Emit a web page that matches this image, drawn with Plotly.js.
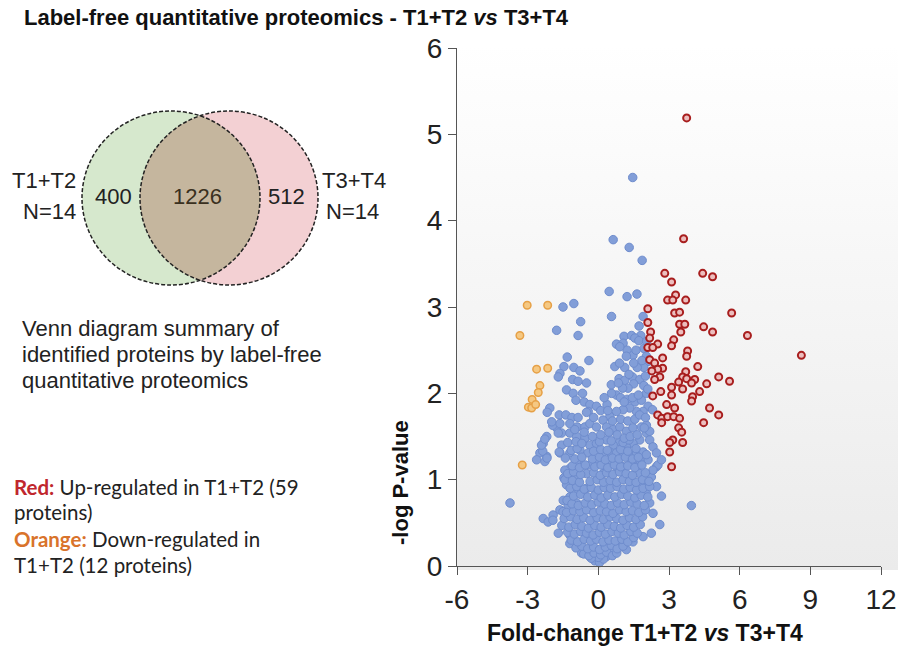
<!DOCTYPE html>
<html><head><meta charset="utf-8">
<script src="https://cdn.plot.ly/plotly-3.0.1.min.js"></script>
<style>html,body{margin:0;padding:0;background:#fff}#chart{width:898px;height:647px}</style>
</head><body><div id="chart"></div><script>
const xTickVals = [-6, -3, 0, 3, 6, 9, 12];
const yTickVals = [0, 1, 2, 3, 4, 5, 6];
const vennSets = ['T1+T2', 'T3+T4'];
const vennN = [14, 14];
const vennCounts = [400, 1226, 512];
const upCount = 59;
const downCount = 12;

const orangePoints = [[-3.02,3.02],[-2.15,3.02],[-3.33,2.67],[-2.62,2.28],[-2.15,2.29],[-2.48,2.09],[-2.55,2.01],[-2.81,1.93],[-2.97,1.84],[-2.83,1.83],[-2.66,1.87],[-3.23,1.17]];

const redPoints = [[3.75,5.19],[3.62,3.79],[2.82,3.39],[4.43,3.39],[4.85,3.35],[3.11,3.29],[3.28,3.14],[2.94,3.08],[3.71,3.08],[3.16,3.08],[2.10,2.98],[3.24,2.93],[3.45,2.94],[5.66,2.93],[2.10,2.82],[3.45,2.80],[3.67,2.80],[4.47,2.77],[4.85,2.71],[6.33,2.67],[2.22,2.71],[3.50,2.71],[2.18,2.64],[3.20,2.62],[2.52,2.57],[2.10,2.53],[2.31,2.53],[3.11,2.55],[3.79,2.49],[3.75,2.43],[8.62,2.44],[2.18,2.39],[2.39,2.35],[2.73,2.41],[2.73,2.29],[2.52,2.28],[2.27,2.26],[3.71,2.25],[4.22,2.31],[3.58,2.19],[5.11,2.19],[5.57,2.14],[2.61,2.19],[2.39,2.16],[3.75,2.17],[4.09,2.16],[3.96,2.12],[3.41,2.13],[4.60,2.11],[3.11,2.07],[3.58,2.05],[4.30,2.02],[2.31,1.97],[2.65,2.02],[3.11,1.98],[4.00,1.96],[3.96,1.91],[4.72,1.83],[5.11,1.75],[2.90,1.87],[3.24,1.83],[2.52,1.75],[2.69,1.71],[2.94,1.73],[3.20,1.73],[3.45,1.71],[4.47,1.66],[2.69,1.66],[3.41,1.60],[3.54,1.55],[3.16,1.46],[3.03,1.43],[3.58,1.43],[3.03,1.32],[3.11,1.15]];

const bluePoints = [
[1.46,4.50],[0.63,3.78],[1.31,3.69],[1.86,3.54],[0.46,3.18],[1.22,3.12],[1.64,3.15],[-1.50,3.00],[-1.04,3.04],[0.56,2.89],[-0.75,2.83],[1.90,2.89],[1.73,2.78],[-0.86,2.67],[1.09,2.66],[1.41,2.67],[1.80,2.67],[-1.77,2.73],[0.77,2.57],[1.05,2.58],[1.22,2.50],[1.55,2.64],[1.72,2.61],[1.93,2.52],[1.47,2.44],[-1.32,2.42],[-1.46,2.31],[-1.04,2.30],[-0.40,2.38],[-0.78,2.26],[-1.63,2.23],[-1.70,2.19],[-1.09,2.16],[-0.86,2.14],[-0.50,2.12],[-1.35,2.04],[-1.07,2.00],[-0.67,2.00],[-0.95,1.92],[-0.60,1.90],[-0.36,1.87],[-0.08,1.85],[-0.43,1.79],[-2.06,1.83],[-2.17,1.78],[-1.66,1.75],[-1.38,1.75],[-1.12,1.72],[-0.86,1.72],[1.12,2.30],[0.88,2.17],[1.12,2.15],[1.45,2.19],[1.76,2.16],[1.93,2.09],[1.50,2.11],[1.26,2.06],[1.03,2.06],[0.77,1.98],[0.56,2.00],[0.37,1.87],[0.94,1.95],[1.22,1.93],[1.55,1.90],[1.83,1.92],[2.04,2.00],[2.11,1.85],[2.30,1.81],[1.90,1.79],[1.62,1.79],[1.33,1.83],[1.05,1.81],[0.77,1.79],[0.49,1.73],[0.20,1.69],[2.04,2.43],[2.11,2.37],[1.93,2.30],[0.70,2.31],[1.19,2.43],[0.91,2.54],
[-2.34,1.42],[-2.48,1.31],[-2.62,1.23],[-2.19,1.50],[-1.77,1.60],[-1.56,1.54],[-1.94,1.63],[-1.63,1.65],[-1.21,1.65],[-0.90,1.61],[-0.57,1.61],[-0.36,1.65],[-0.08,1.61],[-1.21,1.54],[-0.92,1.50],[-0.57,1.48],[-0.36,1.40],[-0.08,1.42],[-1.56,1.40],[-1.63,1.31],[-1.21,1.31],[-0.78,1.34],[-0.43,1.31],[0.35,1.61],[0.63,1.58],[0.91,1.61],[1.19,1.56],[1.47,1.60],[1.83,1.61],[2.04,1.54],[2.18,1.46],[2.32,1.38],[2.47,1.31],[1.76,1.46],[1.47,1.42],[1.19,1.38],[0.91,1.44],[0.63,1.40],[0.35,1.46],[0.49,1.32],[0.77,1.31],[1.05,1.27],[1.33,1.29],[1.62,1.31],[1.90,1.32],[2.11,1.23],[1.76,1.17],[1.41,1.19],[1.05,1.15],[0.77,1.15],[0.42,1.21],[0.14,1.27],[-0.08,1.21],[-0.36,1.17],[-0.64,1.17],[-0.92,1.19],[-1.21,1.13],[-1.42,1.11],[-1.00,1.05],[-0.50,1.07],[0.20,1.07],[2.47,1.15],
[-3.75,0.73],[3.95,0.70],[-2.27,1.21],[-2.19,1.27],[-2.36,1.33],[-2.41,1.40],[-2.27,1.47],[-1.98,1.67],[-1.70,1.54],[-1.66,1.32],[-1.46,1.02],[-1.35,0.94],[-1.49,0.76],[-1.21,0.80],[-0.86,0.86],[-0.50,0.90],[-0.92,0.73],[-1.28,0.69],[-1.63,0.65],[-1.92,0.59],[-2.34,0.55],[-2.13,0.51],[-1.70,0.38],[-1.21,0.36],[-1.21,0.26],[-0.78,0.22],[-0.71,0.15],[-0.36,0.11],[-0.08,0.07],[0.35,0.11],[0.56,0.17],[0.91,0.22],[1.19,0.19],[1.47,0.28],[1.90,0.34],[2.25,0.38],[2.61,0.48],[2.32,0.61],[2.18,0.73],[2.68,0.81],[2.47,0.92],[2.04,0.84],[1.90,0.96],[2.25,1.03],[2.53,1.17],[2.68,1.23],[2.32,1.11],[1.76,1.07],[1.76,1.23],[2.04,1.29],[2.18,1.56],[2.04,1.63],[-1.93,0.53],[-1.50,0.63],[-1.33,0.76],[-1.42,1.00],[-2.18,1.25],
[-0.15,0.06],[0.05,0.04],[0.22,0.08],[0.00,0.10],[-0.30,0.09],
[-0.62,0.14],[-0.40,0.12],[-0.18,0.15],[0.10,0.13],[0.35,0.16],[0.60,0.12],[0.78,0.15],
[-0.95,0.21],[-0.70,0.23],[-0.45,0.20],[-0.20,0.22],[0.05,0.19],[0.30,0.22],[0.55,0.24],[0.80,0.20],[1.05,0.23],
[-1.15,0.30],[-0.88,0.28],[-0.60,0.31],[-0.33,0.29],[-0.08,0.31],[0.20,0.28],[0.45,0.30],[0.72,0.29],[1.00,0.31],[1.25,0.28],[1.50,0.33],
[-1.30,0.39],[-1.02,0.37],[-0.75,0.40],[-0.50,0.38],[-0.22,0.36],[0.05,0.39],[0.30,0.37],[0.58,0.40],[0.85,0.38],[1.10,0.36],[1.38,0.40],[1.65,0.38],
[-1.55,0.47],[-1.25,0.45],[-0.98,0.48],[-0.70,0.46],[-0.42,0.44],[-0.15,0.47],[0.12,0.45],[0.40,0.48],[0.68,0.46],[0.95,0.44],[1.22,0.47],[1.50,0.45],[1.78,0.48],
[-1.45,0.55],[-1.18,0.57],[-0.90,0.54],[-0.62,0.56],[-0.35,0.53],[-0.05,0.56],[0.22,0.54],[0.50,0.57],[0.78,0.55],[1.05,0.53],[1.32,0.56],[1.60,0.54],[1.88,0.57],
[-1.35,0.62],[-1.05,0.64],[-0.78,0.63],[-0.50,0.65],[-0.20,0.62],[0.08,0.64],[0.35,0.63],[0.62,0.61],[0.90,0.65],[1.18,0.63],[1.45,0.64],[1.72,0.62],[2.00,0.65],
[-1.12,0.72],[-0.85,0.70],[-0.55,0.73],[-0.28,0.71],[0.00,0.74],[0.28,0.72],[0.55,0.70],[0.82,0.73],[1.10,0.71],[1.38,0.74],[1.65,0.72],[1.95,0.70],
[-1.05,0.81],[-0.75,0.83],[-0.45,0.80],[-0.15,0.82],[0.12,0.79],[0.40,0.82],[0.70,0.80],[0.98,0.83],[1.25,0.81],[1.55,0.79],[1.82,0.82],[2.10,0.80],
[-1.20,0.90],[-0.92,0.92],[-0.60,0.89],[-0.30,0.91],[0.00,0.88],[0.25,0.91],[0.52,0.90],[0.80,0.92],[1.08,0.89],[1.35,0.91],[1.62,0.88],[1.90,0.90],[2.18,0.92],
[-1.10,0.99],[-0.80,0.97],[-0.35,0.98],[-0.05,1.00],[0.22,0.97],[0.50,0.99],[0.78,0.97],[1.05,1.00],[1.32,0.98],[1.60,0.97],[1.88,1.00],[2.15,0.98],
[-1.30,1.07],[-1.05,1.09],[-0.75,1.06],[-0.20,1.08],[0.08,1.05],[0.35,1.08],[0.62,1.06],[0.90,1.09],[1.18,1.07],[1.45,1.05],[2.00,1.08],
[-1.10,1.16],[-0.80,1.14],[-0.55,1.17],[-0.15,1.15],[0.12,1.17],[0.40,1.14],[0.68,1.17],[0.95,1.15],[1.25,1.16],[1.55,1.14],[1.85,1.17],
[-1.40,1.25],[-1.00,1.24],[-0.70,1.26],[-0.25,1.24],[0.05,1.26],[0.30,1.23],[0.60,1.25],[0.88,1.24],[1.15,1.26],[1.45,1.24],[1.70,1.26],
[-1.15,1.34],[-0.90,1.36],[-0.20,1.33],[0.10,1.35],[0.38,1.34],[0.95,1.35],[1.25,1.33],[1.60,1.36],
[-1.30,1.43],[-0.95,1.44],[-0.70,1.42],[0.05,1.44],[0.55,1.45],[1.05,1.43],[1.30,1.46],
[-1.00,1.58],[-0.60,1.55],[-0.25,1.50],[0.10,1.52],[0.45,1.55],[0.80,1.52],[1.10,1.48],[1.35,1.50],[1.65,1.52],[1.95,1.60],[0.60,1.68],[0.95,1.70],[1.25,1.68],[1.55,1.70],[1.75,1.75],[2.00,1.72],[-0.50,1.78],[-0.20,1.72],[0.10,1.80],[0.40,1.80],[1.10,1.90],[1.45,1.95],[1.70,1.98],[2.10,2.05],[0.25,1.95],[0.55,2.10],[0.85,2.12],[1.30,2.22],[1.65,2.30],[1.85,2.38],[2.00,2.20],[0.90,2.35],[1.50,2.35],[2.05,2.60],[1.60,2.50]
];

const W = 898, H = 647;
const PX = v => v / W, PY = v => 1 - v / H;
const FONT = 'Liberation Sans, Arial, sans-serif';

// Venn geometry (pixels)
const cy = 198, rx = 89, ry = 87, cxL = 171, cxR = 229;
function lensPath() {
  const pts = [];
  const N = 200;
  for (let i = 0; i <= N; i++) {
    const t = -Math.PI + 2 * Math.PI * i / N;
    const x = cxL + rx * Math.cos(t), y = cy + ry * Math.sin(t);
    if (((x - cxR) / rx) ** 2 + ((y - cy) / ry) ** 2 <= 1 && Math.cos(t) > 0) pts.push([x, y]);
  }
  pts.sort((a, b) => a[1] - b[1]);
  const pts2 = [];
  for (let i = 0; i <= N; i++) {
    const t = -Math.PI + 2 * Math.PI * i / N;
    const x = cxR + rx * Math.cos(t), y = cy + ry * Math.sin(t);
    if (((x - cxL) / rx) ** 2 + ((y - cy) / ry) ** 2 <= 1 && Math.cos(t) < 0) pts2.push([x, y]);
  }
  pts2.sort((a, b) => b[1] - a[1]);
  const all = pts.concat(pts2);
  return 'M' + all.map(p => PX(p[0]).toFixed(5) + ',' + PY(p[1]).toFixed(5)).join('L') + 'Z';
}
const circ = (cx, fill, line) => ({type: 'circle', xref: 'paper', yref: 'paper',
  x0: PX(cx - rx), x1: PX(cx + rx), y0: PY(cy + ry), y1: PY(cy - ry),
  fillcolor: fill, line: line, layer: 'above'});

const shapes = [
  circ(cxL, 'rgb(214,232,205)', {width: 0}),
  circ(cxR, 'rgb(243,208,211)', {width: 0}),
  {type: 'path', xref: 'paper', yref: 'paper', path: lensPath(), fillcolor: 'rgb(197,182,158)', line: {width: 0}, layer: 'above'},
  circ(cxL, 'rgba(0,0,0,0)', {color: '#222', width: 1.5, dash: '4px,2px'}),
  circ(cxR, 'rgba(0,0,0,0)', {color: '#222', width: 1.5, dash: '4px,2px'})
];

const ann = (text, x, y, opts) => Object.assign({text, x: PX(x), y: PY(y), xref: 'paper', yref: 'paper',
  showarrow: false, xanchor: 'left', yanchor: 'middle', font: {family: FONT, size: 22, color: '#222'}}, opts || {});

const calibri = 'Lato, Open Sans, sans-serif';
const vf = {family: FONT, size: 22, color: '#222'};
const cf = {family: calibri, size: 20.5, color: '#222'};
const annotations = [
  ann('<b>Label-free quantitative proteomics - T1+T2 <i>vs</i> T3+T4</b>', 22, 18, {font: {family: FONT, size: 22, color: '#111'}}),
  ann(vennSets[0], 78, 180, {xanchor: 'right', font: vf}),
  ann('N=' + vennN[0], 78, 211, {xanchor: 'right', font: vf}),
  ann(vennSets[1], 320, 180, {font: vf}),
  ann('N=' + vennN[1], 324, 211, {font: vf}),
  ann(String(vennCounts[0]), 113, 196, {xanchor: 'center', font: vf}),
  ann(String(vennCounts[1]), 197, 196, {xanchor: 'center', font: {family: FONT, size: 22, color: '#3a3020'}}),
  ann(String(vennCounts[2]), 286, 196, {xanchor: 'center', font: vf}),
  ann('Venn diagram summary of', 20, 328),
  ann('identified proteins by label-free', 20, 354),
  ann('quantitative proteomics', 20, 380),
  ann('<b><span style="color:#c0272d">Red:</span></b> Up-regulated in T1+T2 (' + upCount, 12, 487, {font: cf}),
  ann('proteins)', 12, 512, {font: cf}),
  ann('<b><span style="color:#d9732b">Orange:</span></b> Down-regulated in', 12, 539, {font: cf}),
  ann('T1+T2 (' + downCount + ' proteins)', 12, 565, {font: cf}),
  ann('<b>-log P-value</b>', 400, 483, {xanchor: 'center', textangle: -90, font: {family: FONT, size: 22, color: '#111'}}),
  ann('<b>Fold-change T1+T2 <i>vs</i> T3+T4</b>', 645, 633, {xanchor: 'center', font: {family: FONT, size: 23, color: '#111'}})
];

const svgBg = '<svg xmlns="http://www.w3.org/2000/svg" width="100" height="100" preserveAspectRatio="none"><defs><linearGradient id="g" x1="0" y1="0" x2="0" y2="1"><stop offset="0" stop-color="#ffffff"/><stop offset="1" stop-color="#ebebeb"/></linearGradient></defs><rect width="100" height="100" fill="url(#g)"/></svg>';

const axisCommon = {showgrid: false, zeroline: false, showline: true, linecolor: '#555', linewidth: 1,
  ticks: 'outside', ticklen: 8, tickcolor: '#555', tickwidth: 1,
  tickfont: {family: FONT, size: 28, color: '#222'}, fixedrange: true};

const markerTrace = (pts, fill, lineColor, lw, size) => ({
  type: 'scatter', mode: 'markers', x: pts.map(p => p[0]), y: pts.map(p => p[1]),
  marker: {size: size, color: fill, line: {color: lineColor, width: lw}}, hoverinfo: 'x+y', cliponaxis: false});

const data = [
  markerTrace(bluePoints, 'rgb(130,158,216)', 'rgb(110,140,205)', 1, 8.5),
  markerTrace(orangePoints, 'rgb(245,200,130)', 'rgb(230,160,70)', 1.5, 7.5),
  markerTrace(redPoints, 'rgb(236,190,190)', 'rgb(168,30,30)', 2, 7)
];

const layout = {
  width: W, height: H, margin: {l: 0, r: 0, t: 0, b: 0},
  paper_bgcolor: '#ffffff', plot_bgcolor: 'rgba(0,0,0,0)', showlegend: false,
  xaxis: Object.assign({domain: [PX(457), PX(881)], range: [-6, 12], tickvals: xTickVals, ticktext: xTickVals.map(String)}, axisCommon),
  yaxis: Object.assign({domain: [PY(566), PY(48)], range: [0, 6], tickvals: yTickVals, ticktext: yTickVals.map(String)}, axisCommon),
  images: [{source: 'data:image/svg+xml;charset=utf-8,' + encodeURIComponent(svgBg), xref: 'paper', yref: 'paper',
    x: PX(457), y: PY(45), sizex: PX(898) - PX(457), sizey: PY(45) - PY(570), sizing: 'stretch', xanchor: 'left', yanchor: 'top', layer: 'below'}],
  shapes: shapes, annotations: annotations
};

Plotly.newPlot('chart', data, layout, {displayModeBar: false, staticPlot: true});
</script></body></html>
